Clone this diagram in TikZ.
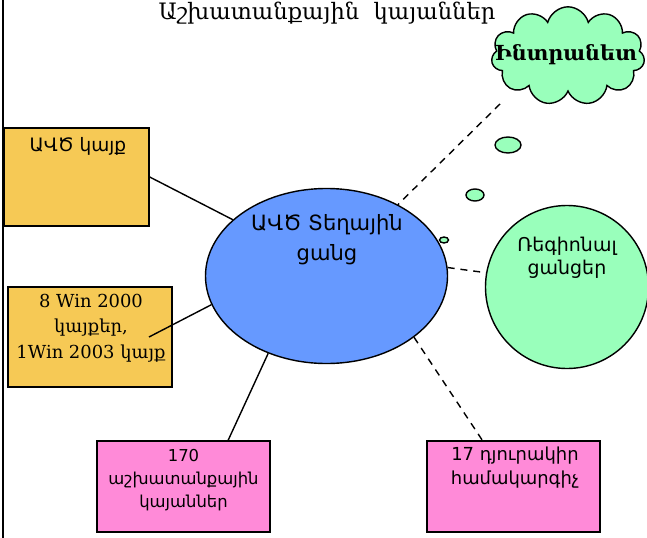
\documentclass[tikz,border=0pt]{standalone}
\usepackage{fontspec}
\setmainfont{DejaVu Serif}
\setsansfont{DejaVu Sans}
\usetikzlibrary{shapes.geometric,shapes.symbols}
\definecolor{sitegold}{RGB}{246,201,85}
\definecolor{stationpink}{RGB}{255,138,216}
\definecolor{lanblue}{RGB}{102,153,255}
\definecolor{netgreen}{RGB}{153,255,187}

\begin{document}
\begin{tikzpicture}[x=0.03cm,y=-0.03cm,
    box/.style={draw,line width=1.2pt,rectangle,inner sep=0pt},
    boxtext/.style={font=\sffamily\fontsize{15}{19.6}\selectfont,align=center,inner sep=0pt},
    bubble/.style={draw,ellipse,line width=1.2pt,fill=netgreen,inner sep=0pt},
    link/.style={line width=1.2pt},
    wire/.style={line width=1.2pt,dash pattern=on 6pt off 5pt}]

\useasboundingbox (0,0) rectangle (647,538);
\draw[line width=1.4pt] (3,0) -- (3,538);

% title
\node[font=\rmfamily\fontsize{19.3}{22}\selectfont,anchor=base,inner sep=0pt] (title) at (327,20) {Աշխատանքային\ \ կայաններ};

% intranet cloud and its bubbles
\node[cloud,cloud puffs=11,aspect=1.6,draw,line width=1.2pt,fill=netgreen,
      minimum width=4.6cm,minimum height=2.95cm,inner sep=0pt] (intranet) at (568,56) {};
\node[font=\rmfamily\bfseries\fontsize{17.7}{20}\selectfont,inner sep=0pt] (intranettext) at (566,55) {Ինտրանետ};
\node[bubble,minimum width=0.78cm,minimum height=0.48cm] (bubbleA) at (508,145) {};
\node[bubble,minimum width=0.54cm,minimum height=0.36cm] (bubbleB) at (475,195) {};
\node[bubble,minimum width=0.27cm,minimum height=0.18cm] (bubbleC) at (444,240) {};

% local network
\node[draw,ellipse,line width=1.2pt,fill=lanblue,minimum width=7.26cm,minimum height=5.25cm] (lan) at (326.5,276) {};
\node[font=\sffamily\fontsize{18}{25.6}\selectfont,align=center,inner sep=0pt] (lantext) at (327,240) {ԱՎԾ Տեղային\\ցանց};

% regional networks
\node[draw,circle,line width=1.2pt,fill=netgreen,minimum size=4.89cm] (regional) at (567,287) {};
\node[boxtext,font=\sffamily\fontsize{16.2}{19.6}\selectfont] (regionaltext) at (567,258) {Ռեգիոնալ\\ցանցեր};

% boxes
\node[box,fill=sitegold,minimum width=4.35cm,minimum height=2.94cm] (site) at (76.5,177) {};
\node[boxtext,font=\sffamily\fontsize{15.8}{19.6}\selectfont,anchor=north] (sitetext) at (78,137) {ԱՎԾ կայք};

\node[box,fill=sitegold,minimum width=4.92cm,minimum height=3.0cm] (servers) at (90,337) {};
\node[boxtext,font=\rmfamily\fontsize{15.3}{22}\selectfont] (serverstext) at (91,328) {8 Win 2000\\կայքեր,\\1Win 2003 կայք};

\node[box,fill=stationpink,minimum width=5.19cm,minimum height=2.73cm] (stations) at (183.5,486.5) {};
\node[boxtext,font=\sffamily\fontsize{14}{19.6}\selectfont] (stationstext) at (183.5,480) {170\\աշխատանքային\\կայաններ};

\node[box,fill=stationpink,minimum width=5.19cm,minimum height=2.73cm] (laptops) at (513.5,486.5) {};
\node[boxtext,font=\sffamily\fontsize{15.3}{20.5}\selectfont] (laptopstext) at (515,467.5) {17 դյուրակիր\\համակարգիչ};

% connectors
\coordinate (serverstail) at (149,337);
\coordinate (intranettail) at (500,104);
\draw[link] (site.east) -- (lan.149);
\draw[link] (serverstail) -- (lan.194);
\draw[link] (stations.46) -- (lan.233);
\draw[wire] (intranettail) -- (lan.45);
\draw[wire] (lan.4) -- (regional.170);
\draw[wire] (lan.-35) -- (laptops.124);

\end{tikzpicture}
\end{document}
